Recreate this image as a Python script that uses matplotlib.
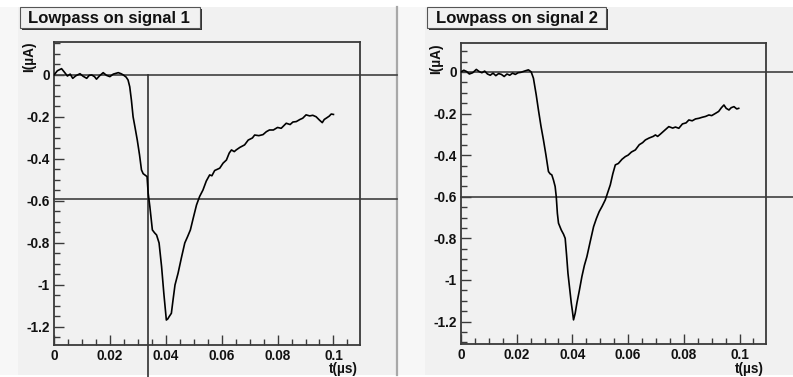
import matplotlib
matplotlib.use("Agg")
import matplotlib.pyplot as plt
from matplotlib.patches import Rectangle
from matplotlib.lines import Line2D
from matplotlib.ticker import MultipleLocator

plt.rcParams["font.family"] = ["Liberation Sans", "DejaVu Sans"]
plt.rcParams["axes.unicode_minus"] = False

# ---- data: filtered current traces ----
t1 = [0.0000, 0.0012, 0.0027, 0.0038, 0.0048, 0.0058, 0.0067, 0.0078, 0.0093, 0.0104,
      0.0117, 0.0126, 0.0135, 0.0145, 0.0152, 0.0163, 0.0176, 0.0188, 0.0200, 0.0212,
      0.0230, 0.0240, 0.0248, 0.0258, 0.0265, 0.0271, 0.0277, 0.0283, 0.0290, 0.0298,
      0.0306, 0.0313, 0.0319, 0.0325, 0.0333, 0.0337, 0.0343, 0.0352, 0.0360, 0.0367,
      0.0376, 0.0385, 0.0393, 0.0402, 0.0407, 0.0412, 0.0420, 0.0426, 0.0433, 0.0444,
      0.0456, 0.0468, 0.0478, 0.0488, 0.0498, 0.0510, 0.0521, 0.0533, 0.0545, 0.0557,
      0.0565, 0.0575, 0.0593, 0.0605, 0.0617, 0.0627, 0.0635, 0.0645, 0.0652, 0.0665,
      0.0682, 0.0695, 0.0710, 0.0718, 0.0733, 0.0748, 0.0760, 0.0771, 0.0785, 0.0800,
      0.0813, 0.0831, 0.0845, 0.0855, 0.0867, 0.0880, 0.0890, 0.0902, 0.0915, 0.0926,
      0.0938, 0.0950, 0.0960, 0.0967, 0.0975, 0.0985, 0.0992, 0.1000]
i1 = [0.000, 0.020, 0.030, 0.012, -0.005, 0.004, -0.016, -0.004, 0.006, -0.006,
      -0.016, -0.002, 0.000, -0.008, -0.020, -0.004, 0.011, -0.002, -0.008, 0.004,
      0.011, 0.006, 0.000, -0.010, -0.024, -0.056, -0.120, -0.199, -0.250, -0.310,
      -0.380, -0.452, -0.470, -0.476, -0.484, -0.563, -0.627, -0.738, -0.752, -0.762,
      -0.800, -0.913, -1.040, -1.167, -1.162, -1.151, -1.135, -1.071, -1.000, -0.944,
      -0.870, -0.800, -0.770, -0.738, -0.683, -0.619, -0.579, -0.548, -0.505, -0.476,
      -0.480, -0.455, -0.444, -0.420, -0.405, -0.372, -0.357, -0.365, -0.357, -0.345,
      -0.333, -0.310, -0.300, -0.286, -0.289, -0.284, -0.270, -0.262, -0.262, -0.250,
      -0.254, -0.230, -0.236, -0.224, -0.222, -0.212, -0.206, -0.190, -0.195, -0.192,
      -0.199, -0.215, -0.227, -0.212, -0.205, -0.196, -0.186, -0.188]

t2 = [0.0000, 0.0010, 0.0020, 0.0030, 0.0042, 0.0055, 0.0065, 0.0075, 0.0085, 0.0095,
      0.0105, 0.0115, 0.0125, 0.0135, 0.0145, 0.0155, 0.0165, 0.0175, 0.0185, 0.0195,
      0.0205, 0.0215, 0.0228, 0.0242, 0.0252, 0.0260, 0.0270, 0.0278, 0.0287, 0.0296,
      0.0305, 0.0314, 0.0320, 0.0326, 0.0332, 0.0338, 0.0342, 0.0346, 0.0350, 0.0360,
      0.0368, 0.0374, 0.0379, 0.0384, 0.0390, 0.0396, 0.0400, 0.0404, 0.0410, 0.0416,
      0.0425, 0.0434, 0.0443, 0.0452, 0.0464, 0.0476, 0.0486, 0.0496, 0.0507, 0.0518,
      0.0530, 0.0536, 0.0545, 0.0554, 0.0565, 0.0578, 0.0590, 0.0600, 0.0612, 0.0626,
      0.0640, 0.0652, 0.0662, 0.0675, 0.0690, 0.0698, 0.0706, 0.0715, 0.0730, 0.0746,
      0.0760, 0.0770, 0.0782, 0.0795, 0.0808, 0.0818, 0.0830, 0.0842, 0.0854, 0.0866,
      0.0878, 0.0890, 0.0900, 0.0914, 0.0925, 0.0935, 0.0944, 0.0952, 0.0962, 0.0970,
      0.0980, 0.0990, 0.0997]
i2 = [0.000, 0.008, 0.002, -0.010, -0.004, 0.012, 0.002, -0.004, 0.004, -0.010,
      -0.016, -0.006, -0.018, -0.008, -0.012, -0.022, -0.010, -0.016, -0.006, -0.012,
      -0.004, -0.002, 0.004, 0.010, 0.000, -0.030, -0.110, -0.183, -0.260, -0.327,
      -0.400, -0.479, -0.490, -0.495, -0.520, -0.551, -0.600, -0.680, -0.727, -0.760,
      -0.780, -0.800, -0.880, -0.968, -1.040, -1.112, -1.150, -1.192, -1.160, -1.112,
      -1.050, -0.984, -0.930, -0.888, -0.815, -0.744, -0.705, -0.672, -0.645, -0.615,
      -0.567, -0.543, -0.490, -0.447, -0.440, -0.420, -0.407, -0.400, -0.385, -0.375,
      -0.350, -0.340, -0.327, -0.318, -0.310, -0.303, -0.310, -0.300, -0.282, -0.263,
      -0.270, -0.265, -0.271, -0.250, -0.245, -0.231, -0.235, -0.226, -0.223, -0.218,
      -0.214, -0.207, -0.210, -0.199, -0.190, -0.172, -0.159, -0.175, -0.183, -0.172,
      -0.167, -0.178, -0.175]

titles = ["Lowpass on signal 1", "Lowpass on signal 2"]
x_ticks = [0, 0.02, 0.04, 0.06, 0.08, 0.1]
x_tick_labels = ["0", "0.02", "0.04", "0.06", "0.08", "0.1"]
y_ticks = [0, -0.2, -0.4, -0.6, -0.8, -1.0, -1.2]
y_tick_labels = ["0", "-0.2", "-0.4", "-0.6", "-0.8", "-1", "-1.2"]
x_label = "t(µs)"
y_label = "I(µA)"

# cursor positions
hlines1 = [0.0, -0.59]
vline1 = 0.0336
hlines2 = [0.0, -0.6]

# ---- layout (pixel based) ----
W, H = 793, 377
fig = plt.figure(figsize=(W / 100, H / 100), dpi=100)
fig.patch.set_facecolor("#f7f7f7")

def fx(x):
    return x / W

def fy(y):
    return 1 - y / H

def prect(x0, y0, x1, y1, **kw):
    fig.patches.append(Rectangle((fx(x0), fy(y1)), fx(x1) - fx(x0), fy(y0) - fy(y1),
                                 transform=fig.transFigure, **kw))

PAD = "#f1f1f1"
FRAME = "#3a3a3a"
# canvas pads, white margins and separator (behind the axes)
prect(18, 7, 396, 375, facecolor=PAD, edgecolor="none", zorder=-10)
prect(425, 7, 793, 375, facecolor=PAD, edgecolor="none", zorder=-10)
prect(0, 0, 793, 7, facecolor="white", edgecolor="none", zorder=-9)
prect(0, 375, 793, 377, facecolor="white", edgecolor="none", zorder=-9)
fig.lines.append(Line2D([fx(397), fx(397)], [fy(7), fy(375)], transform=fig.transFigure,
                        color="#a8a8a8", lw=1.6, zorder=-8))

panels = [
    dict(box=(54, 42, 360, 345), ylim=(-1.286, 0.157), t=t1, i=i1, hl=hlines1, vl=vline1,
         pad_right=397, title_box=(20, 7, 200, 28), title_x=28, ylab_x=29.5),
    dict(box=(461, 43, 766, 344), ylim=(-1.308, 0.139), t=t2, i=i2, hl=hlines2, vl=None,
         pad_right=793, title_box=(427, 7, 606, 28), title_x=436, ylab_x=436.5),
]

for p, title in zip(panels, titles):
    x0, y0, x1, y1 = p["box"]
    ax = fig.add_axes([fx(x0), fy(y1), fx(x1) - fx(x0), fy(y0) - fy(y1)])
    ax.set_facecolor(PAD)
    ax.set_xlim(0, 0.1095)
    ax.set_ylim(*p["ylim"])
    for s in ax.spines.values():
        s.set_color(FRAME)
        s.set_linewidth(1.3)

    ax.plot(p["t"], p["i"], color="black", lw=1.2, zorder=3)

    ax.set_xticks(x_ticks)
    ax.set_xticklabels(x_tick_labels)
    ax.set_yticks(y_ticks)
    ax.set_yticklabels(y_tick_labels)
    ax.xaxis.set_minor_locator(MultipleLocator(0.005))
    ax.yaxis.set_minor_locator(MultipleLocator(0.05))
    ax.tick_params(which="both", direction="in", top=False, right=False,
                   color=FRAME, width=1.0)
    ax.tick_params(which="major", length=7.5, pad=3)
    ax.tick_params(which="minor", length=4)
    for lab in ax.get_xticklabels() + ax.get_yticklabels():
        lab.set_fontsize(9.8)
        lab.set_fontweight("bold")
        lab.set_color("#111111")

    # cursor lines extending beyond the frame
    xmax = (p["pad_right"] - x0) / (x1 - x0)
    for h in p["hl"]:
        ax.axhline(h, xmin=0, xmax=xmax, color="#404040", lw=1.2, clip_on=False, zorder=2)
    if p["vl"] is not None:
        y_bot = -(H - y1) / (y1 - y0)
        ymin_data, ymax_data = p["ylim"]
        y_top = (0 - ymin_data) / (ymax_data - ymin_data)
        ax.axvline(p["vl"], ymin=y_bot, ymax=y_top, color="#303030", lw=1.2,
                   clip_on=False, zorder=2)

    # axis titles
    fig.text(fx(p["ylab_x"]), fy(y0), y_label, rotation=90, ha="center", va="top",
             fontsize=9.8, fontweight="bold", color="#111111")
    fig.text(fx(x1 - 2), fy(369), x_label, ha="right", va="center",
             fontsize=9.8, fontweight="bold", color="#111111")

    # title box with drop shadow
    bx0, by0, bx1, by1 = p["title_box"]
    prect(bx0 + 2, by0 + 2, bx1 + 2, by1 + 2, facecolor="#333333", edgecolor="none", zorder=4)
    prect(bx0, by0, bx1, by1, facecolor=PAD, edgecolor="#555555", lw=0.8, zorder=5)
    fig.text(fx(p["title_x"]), fy((by0 + by1) / 2 + 0.5), title, ha="left", va="center",
             fontsize=12, fontweight="bold", color="#111111", zorder=6)

fig.savefig("out.png", dpi=100, facecolor=fig.get_facecolor())
